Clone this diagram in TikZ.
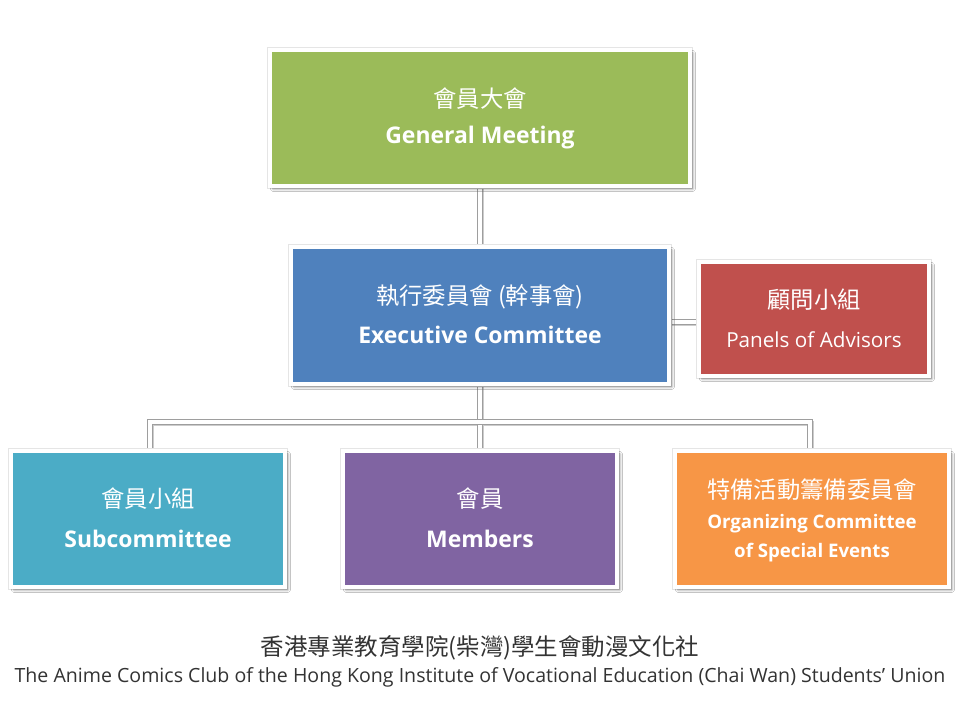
\documentclass[tikz,border=0pt]{standalone}
\usepackage{fontspec}
\setmainfont{Open Sans}
\newfontfamily\cjk{Noto Sans CJK TC}
\usetikzlibrary{shadows.blur}
\definecolor{cgreen}{HTML}{9BBB59}
\definecolor{cblue}{HTML}{4F81BD}
\definecolor{cred}{HTML}{C0504D}
\definecolor{ccyan}{HTML}{4BACC6}
\definecolor{cpurple}{HTML}{8064A2}
\definecolor{corange}{HTML}{F79646}
\tikzset{
  orgbox/.style={rectangle, draw=white, line width=3pt, text=white, align=center,
    inner sep=0pt, outer sep=1.5pt,
    preaction={draw=black!10, line width=4pt},
    blur shadow={shadow xshift=2.2pt, shadow yshift=-2.2pt, shadow blur steps=6,
      shadow blur radius=1.8pt, shadow opacity=45}},
  conn/.style={draw=black!38, line width=1pt, double=white, double distance=2.6pt,
    line cap=rect},
  connshadow/.style={draw=black!20, line width=4pt, line cap=rect},
  zh/.style={font=\cjk\fontsize{17.5}{21}\selectfont, text=white},
  entitle/.style={text=white, font=\bfseries\fontsize{17.2}{21}\selectfont},
}
\begin{document}
\begin{tikzpicture}[x=0.75pt,y=-0.75pt]
\useasboundingbox (0,0) rectangle (960,720);
\fill[white] (0,0) rectangle (960,720);

% connector points
\coordinate (jl) at (150,422);
\coordinate (jr) at (810,422);
\coordinate (gmb) at (480,188);
\coordinate (exb) at (480,386);
\coordinate (ext) at (480,245);
\coordinate (exr) at (671,322);
\coordinate (rdl) at (697,322);
\coordinate (cyt) at (150,449);
\coordinate (put) at (480,449);
\coordinate (ort) at (810,449);

\begin{scope}[transform canvas={xshift=1pt,yshift=-1pt}]
\draw[connshadow] (gmb) -- (ext);
\draw[connshadow] (exb) -- (put);
\draw[connshadow] (cyt) -- (jl) -- (jr) -- (ort);
\draw[connshadow] (exr) -- (rdl);
\end{scope}
\draw[conn] (gmb) -- (ext);
\draw[conn] (exb) -- (put);
\draw[conn] (cyt) -- (jl) -- (jr) -- (ort);
\draw[conn] (exr) -- (rdl);

% boxes
\node[orgbox, fill=cgreen, minimum width=315pt, minimum height=102pt] (gm) at (480,118) {};
\node[orgbox, fill=cblue, minimum width=283.5pt, minimum height=102.75pt] (ex) at (480,315.5) {};
\node[orgbox, fill=cred, minimum width=172.5pt, minimum height=85.5pt] (rd) at (814,319) {};
\node[orgbox, fill=ccyan, minimum width=205.5pt, minimum height=102pt] (cy) at (148,519) {};
\node[orgbox, fill=cpurple, minimum width=205.5pt, minimum height=102pt] (pu) at (480,519) {};
\node[orgbox, fill=corange, minimum width=205.5pt, minimum height=102pt] (or) at (812,519) {};

% texts
\node[zh] (gmz) at (480,99) {會員大會};
\node[entitle] (gme) at (480,138) {General Meeting};
\node[zh] (exz) at (480,297) {執行委員會 (幹事會)};
\node[entitle] (exe) at (480,335) {Executive Committee};
\node[zh] (rdz) at (814,300) {顧問小組};
\node[text=white, font=\fontsize{15.5}{18}\selectfont] (rde) at (814,340) {Panels of Advisors};
\node[zh] (cyz) at (148,499) {會員小組};
\node[entitle] (cye) at (148,539) {Subcommittee};
\node[zh] (puz) at (480,499) {會員};
\node[entitle] (pue) at (480,539) {Members};
\node[zh] (orz) at (812,490) {特備活動籌備委員會};
\node[text=white, font=\bfseries\fontsize{14}{17}\selectfont] (ore1) at (812,524) {Organizing Committee};
\node[text=white, font=\bfseries\fontsize{14}{17}\selectfont] (ore2) at (812,553) {of Special Events};

% footer
\node[font=\cjk\fontsize{17.6}{21}\selectfont, text=black!80] (ftz) at (480,648) {香港專業教育學院(柴灣)學生會動漫文化社};
\node[font=\fontsize{14}{17}\selectfont, text=black!80] (fte) at (480,677) {\resizebox{698pt}{!}{The Anime Comics Club of the Hong Kong Institute of Vocational Education (Chai Wan) Students' Union}};
\end{tikzpicture}
\end{document}
